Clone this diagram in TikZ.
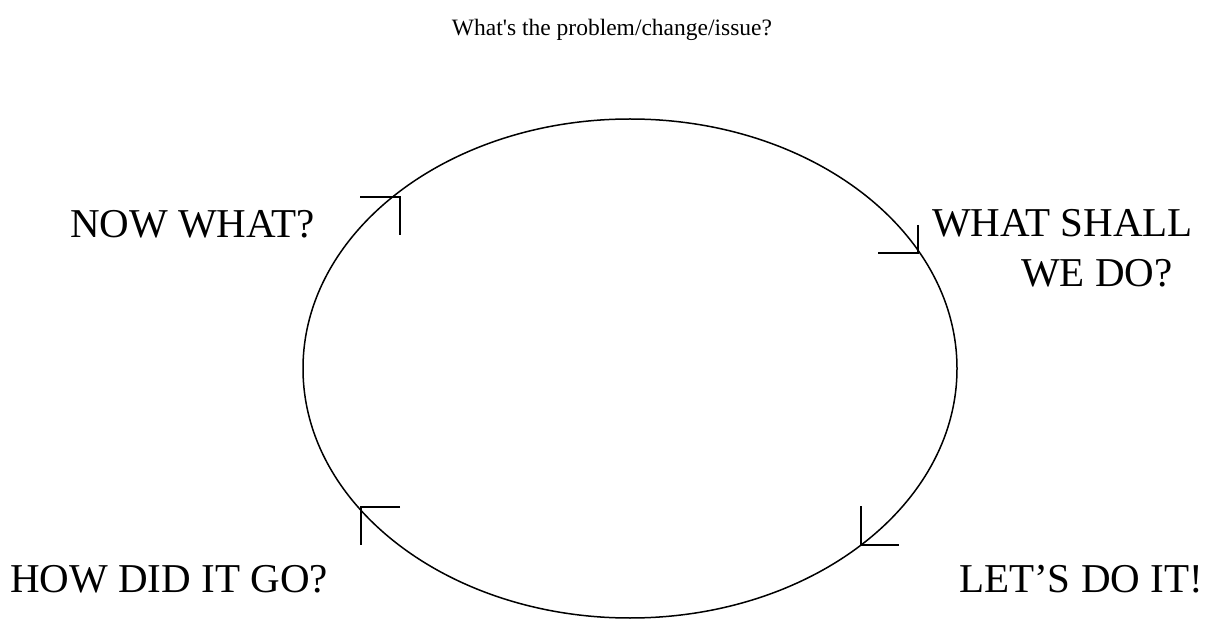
\documentclass[tikz,border=0pt]{standalone}
\usepackage{fontspec}
\setmainfont{Liberation Serif}
\begin{document}
\begin{tikzpicture}[x=1pt,y=-1pt,
  big/.style={font=\fontsize{41}{50}\selectfont, inner sep=0pt},
  small/.style={font=\fontsize{23.5}{28}\selectfont, inner sep=0pt},
  cornermark/.style={line width=1.5pt},
  cycle/.style={line width=1.5pt}]
\useasboundingbox (0,0) rectangle (1219,620);
\draw[cycle] (630,368.5) ellipse [x radius=327, y radius=249.5];
\node[small, anchor=base] (title) at (612,36) {What\textquotesingle s the problem/change/issue?};
\node[big, anchor=base east] (now) at (315,238) {NOW WHAT?};
\node[big, anchor=base west] (shall) at (932,237) {WHAT SHALL};
\node[big, anchor=base west] (wedo) at (1021,287) {WE DO?};
\node[big, anchor=base west] (how) at (10,592) {HOW DID IT GO?};
\node[big, anchor=base east] (lets) at (1203,592) {LET’S DO IT!};
\draw[cornermark] (360,197) -- (400,197) -- (400,235);
\draw[cornermark] (918,225) -- (918,253) -- (878,253);
\draw[cornermark] (400,507) -- (361,507) -- (361,545);
\draw[cornermark] (861,506) -- (861,545) -- (899,545);
\end{tikzpicture}
\end{document}
